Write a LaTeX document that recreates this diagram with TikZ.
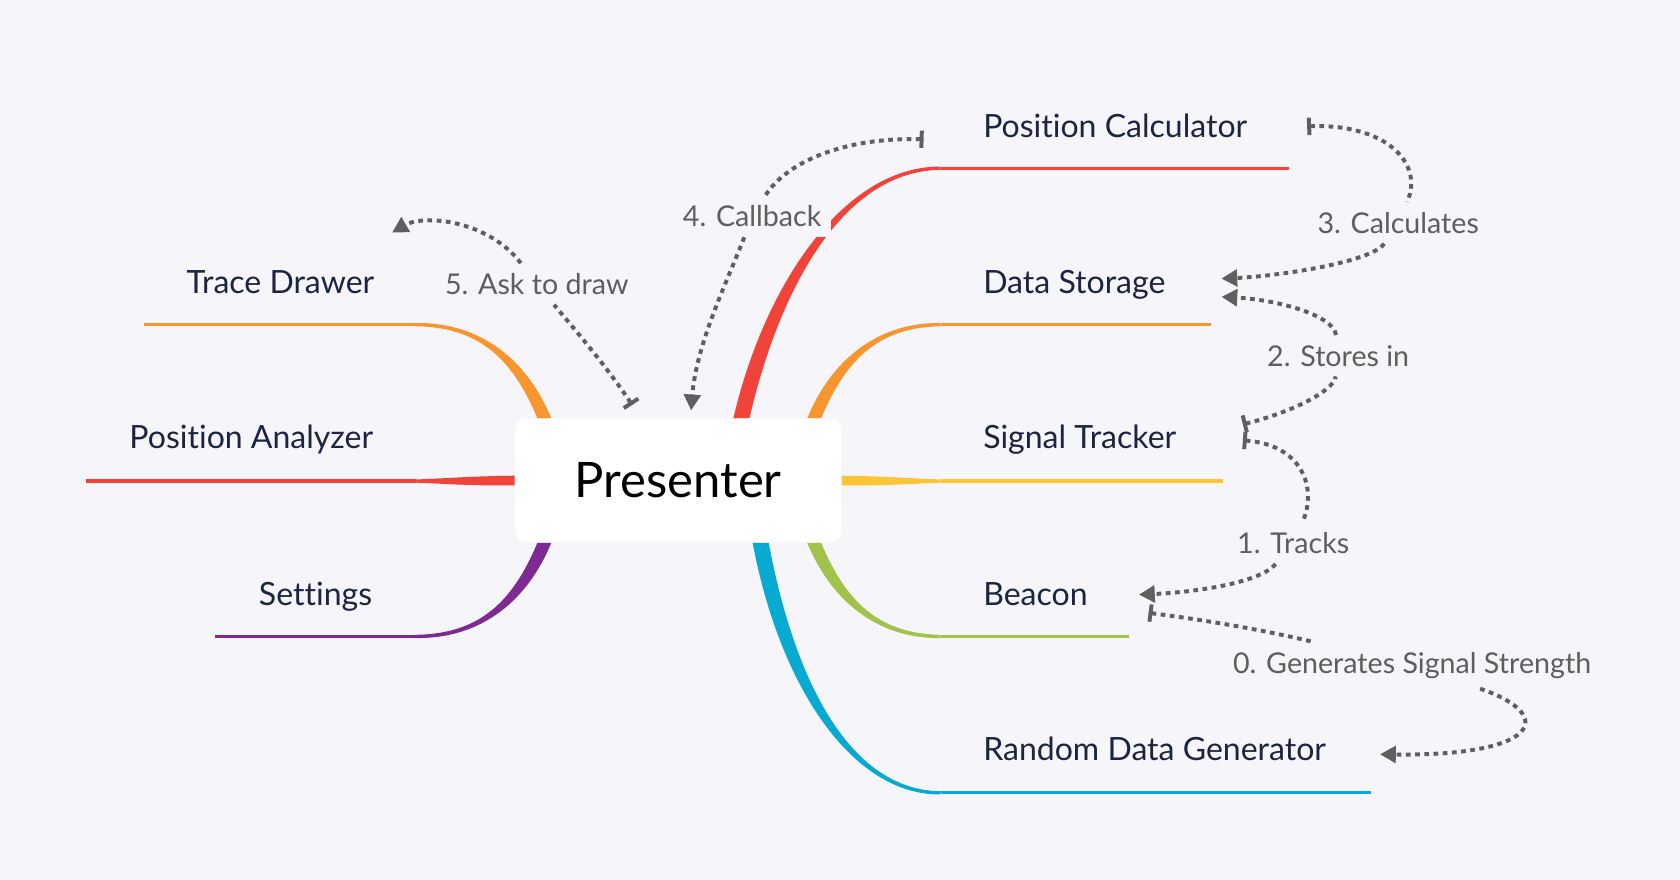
\documentclass[tikz,border=0pt]{standalone}
\usepackage{fontspec}
\setmainfont{Lato}[Ligatures=NoCommon]
\usetikzlibrary{arrows.meta,calc}

\definecolor{bg}{HTML}{F5F5FA}
\definecolor{ink}{HTML}{1B2440}
\definecolor{lblgray}{HTML}{5E5E5E}
\definecolor{arrowgray}{HTML}{5F5F5F}
\definecolor{cred}{HTML}{F0433A}
\definecolor{corange}{HTML}{F7962F}
\definecolor{cyellow}{HTML}{FDC435}
\definecolor{cgreen}{HTML}{A1C24B}
\definecolor{cblue}{HTML}{08AAD2}
\definecolor{cpurple}{HTML}{7E2A92}

% tapered branch: colour, root, control 1, control 2, junction, half width at root, half width at junction
\newcommand{\taper}[7]{\fill[#1] ($(#2)+(#6)$) .. controls ($(#3)+(#6)$) and ($(#4)+1.6*(#7)$) .. ($(#5)+(#7)$) -- ($(#5)-(#7)$) .. controls ($(#4)-1.6*(#7)$) and ($(#3)-(#6)$) .. ($(#2)-(#6)$) -- cycle;}

\begin{document}
\begin{tikzpicture}[x=0.01cm, y=-0.01cm,
  hub/.style = {fill=white, rounded corners=2.8pt, minimum width=3.04cm, minimum height=1.15cm, font=\fontsize{13}{15}\selectfont},
  topic/.style = {inner sep=0pt, anchor=base west, text=ink, font=\fontsize{8.5}{10}\selectfont},
  ltopic/.style = {topic, anchor=base east},
  lbl/.style = {fill=bg, text=lblgray, inner sep=2.5pt, font=\fontsize{7.6}{9}\selectfont},
  flow/.style = {draw=arrowgray, line width=1.05pt, dash pattern=on 1.25pt off 1.2pt},
  fromtip/.style = {arrows={Bar[width=4.6pt]-}},
  totip/.style = {arrows={-Triangle[length=4.2pt,width=4.4pt]}},
  uline/.style = {line width=0.85pt}]
  \fill[bg] (0,0) rectangle (1568,821);

  \node[hub] (pres) at (633,448.5) {Presenter};

  \node[topic] (calc)   at (917,128) {Position Calculator};
  \node[topic] (store)  at (917,274) {Data Storage};
  \node[topic] (track)  at (917,419) {Signal Tracker};
  \node[topic] (beacon) at (917,565) {Beacon};
  \node[topic] (gen)    at (917,710) {Random Data Generator};
  \node[ltopic] (trace)    at (350,274) {Trace Drawer};
  \node[ltopic] (analyzer) at (349,419) {Position Analyzer};
  \node[ltopic] (settings) at (348,565) {Settings};

  % branch roots on the hub, junctions and line ends
  \foreach \n/\a/\dx in {calc/north/59, store/north/127, track/east/0, beacon/south/127, gen/south/77,
                         trace/north/-125, analyzer/west/0, settings/south/-125}
    \coordinate (r\n) at ($(pres.\a)+(\dx,0)$);
  \foreach \n/\y/\e in {calc/157/1203, store/303/1130, track/449/1141, beacon/594/1054, gen/740/1280}
    {\coordinate (j\n) at (878,\y); \coordinate (e\n) at (\e,\y);}
  \foreach \n/\y/\e in {trace/303/134, analyzer/449/80, settings/594/201}
    {\coordinate (j\n) at (388,\y); \coordinate (e\n) at (\e,\y);}

  \taper{cred}{rcalc}{722,262}{790,157}{jcalc}{7.5,0}{0,1.5}
  \taper{corange}{rstore}{785,330}{825,303}{jstore}{6.5,0}{0,1.5}
  \taper{cyellow}{rtrack}{830,449}{850,449}{jtrack}{0,4.5}{0,1.5}
  \taper{cgreen}{rbeacon}{785,567}{825,594}{jbeacon}{6.5,0}{0,-1.5}
  \taper{cblue}{rgen}{735,640}{795,740}{jgen}{7.5,0}{0,-1.5}
  \taper{corange}{rtrace}{483,330}{443,303}{jtrace}{6.5,0}{0,-1.5}
  \taper{cred}{ranalyzer}{436,449}{416,449}{janalyzer}{0,4.5}{0,1.5}
  \taper{cpurple}{rsettings}{483,567}{443,594}{jsettings}{6.5,0}{0,1.5}

  \foreach \n/\c in {calc/cred, store/corange, track/cyellow, beacon/cgreen, gen/cblue,
                     trace/corange, analyzer/cred, settings/cpurple}
    \draw[uline, \c] (j\n) -- (e\n);

  % relations
  \node[lbl] (l0) at (1318,621) {0. Generates Signal Strength};
  \node[lbl] (l1) at (1207,507) {1. Tracks};
  \node[lbl] (l2) at (1249,332) {2. Stores in};
  \node[lbl] (l3) at (1305,208) {3. Calculates};
  \node[lbl] (l4) at (702,202) {4. Callback};
  \node[lbl] (l5) at (501,265) {5. Ask to draw};

  \coordinate (s0) at (1072,572);  \coordinate (t0) at (1288,704);
  \coordinate (s1) at (1160,411);  \coordinate (t1) at (1063,555);
  \coordinate (s2) at (1160,396);  \coordinate (t2) at (1140,277);
  \coordinate (s3) at (1220,118);  \coordinate (t3) at (1140,260);
  \coordinate (s4) at (862,130);   \coordinate (t4) at (645,383);
  \coordinate (s5) at (590,378);   \coordinate (t5) at (366,217);

  \draw[flow, fromtip] (s0) .. controls (1150,582) and (1200,593) .. (l0);
  \draw[flow, totip] (l0) .. controls (1455,668) and (1435,706) .. (t0);
  \draw[flow, fromtip] (s1) .. controls (1215,415) and (1230,455) .. (l1);
  \draw[flow, totip] (l1) .. controls (1175,545) and (1110,553) .. (t1);
  \draw[flow, fromtip] (s2) .. controls (1205,385) and (1245,365) .. (l2);
  \draw[flow, totip] (l2) .. controls (1245,295) and (1195,280) .. (t2);
  \draw[flow, fromtip] (s3) .. controls (1290,115) and (1330,150) .. (l3);
  \draw[flow, totip] (l3) .. controls (1280,245) and (1190,258) .. (t3);
  \draw[flow, fromtip] (s4) .. controls (790,128) and (735,150) .. (l4);
  \draw[flow, totip] (l4) .. controls (680,260) and (650,320) .. (t4);
  \draw[flow, fromtip] (s5) .. controls (565,340) and (530,300) .. (l5);
  \draw[flow, totip] (l5) .. controls (455,205) and (395,200) .. (t5);
\end{tikzpicture}
\end{document}
